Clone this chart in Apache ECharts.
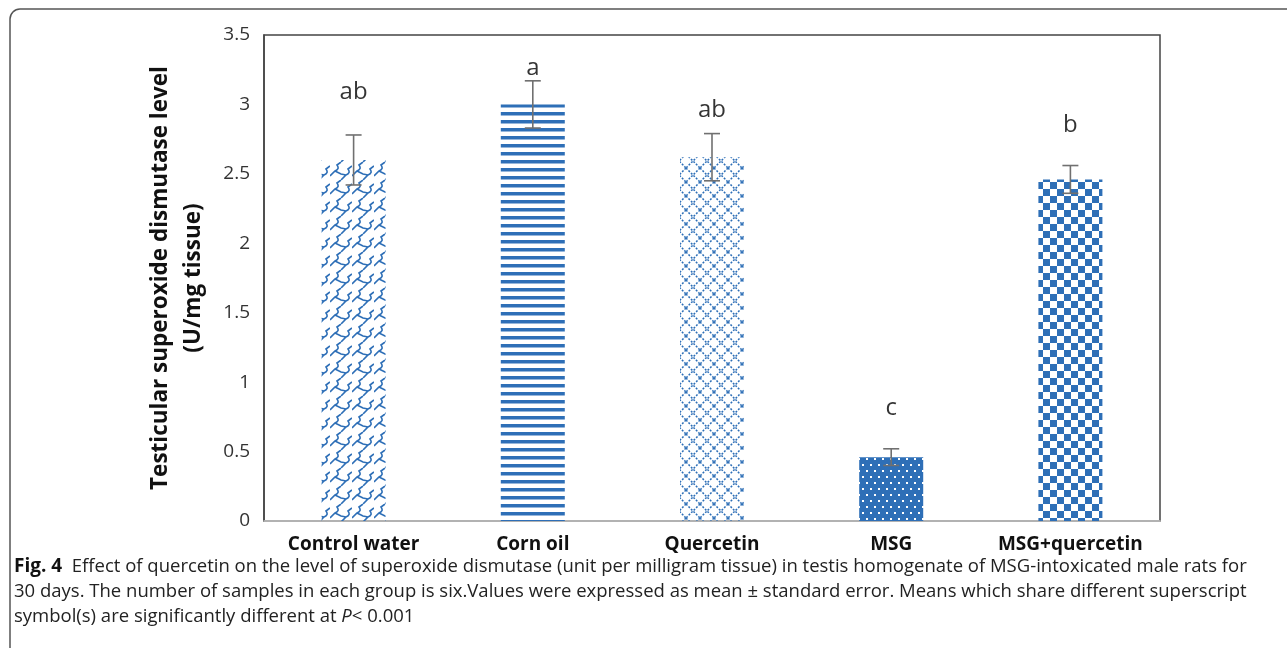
<!DOCTYPE html>
<html>
<head>
<meta charset="utf-8">
<script src="https://cdn.jsdelivr.net/npm/echarts@6/dist/echarts.min.js"></script>
<style>
  html, body { margin: 0; padding: 0; background: #fff; }
  #chart { width: 1287px; height: 648px; }
</style>
</head>
<body>
<div id="chart"></div>
<script>
// data
const groups = ['Control water', 'Corn oil', 'Quercetin', 'MSG', 'MSG+quercetin'];
const sodMean = [2.6, 3.0, 2.62, 0.46, 2.46];
const sodErr = [0.18, 0.17, 0.17, 0.06, 0.1];
const sigLetters = ['ab', 'a', 'ab', 'c', 'b'];
const letterAt = [3.09, 3.26, 2.96, 0.81, 2.85];
const yTicks = [0, 0.5, 1, 1.5, 2, 2.5, 3, 3.5];

const BLUE = '#2e6fb7';

// pattern tiles
function tile(w, h, draw) {
  const c = document.createElement('canvas');
  c.width = w; c.height = h;
  const ctx = c.getContext('2d');
  draw(ctx, w, h);
  return { image: c, repeat: 'repeat' };
}
const patWave = tile(22, 18, (ctx) => {
  ctx.strokeStyle = BLUE; ctx.lineWidth = 1.6;
  ctx.beginPath();
  ctx.moveTo(0, 14); ctx.lineTo(5, 9); ctx.quadraticCurveTo(10, 7, 7, 3); ctx.lineTo(11, 0);
  ctx.moveTo(11, 18); ctx.lineTo(16, 13); ctx.quadraticCurveTo(21, 11, 18, 7); ctx.lineTo(22, 4);
  ctx.moveTo(5, 9); ctx.lineTo(11, 12); ctx.lineTo(16, 13);
  ctx.moveTo(-4, 12); ctx.lineTo(0, 14);
  ctx.stroke();
});
const patStripe = tile(8, 8, (ctx, w) => {
  ctx.fillStyle = BLUE; ctx.fillRect(0, 0, w, 3.5);
});
const patCross = tile(14, 14, (ctx, w, h) => {
  ctx.strokeStyle = BLUE; ctx.lineWidth = 1.5;
  ctx.setLineDash([2, 1.5]);
  ctx.beginPath();
  ctx.moveTo(0, 0); ctx.lineTo(w, h);
  ctx.moveTo(w, 0); ctx.lineTo(0, h);
  ctx.stroke();
});
const patDots = tile(16, 12, (ctx, w, h) => {
  ctx.fillStyle = BLUE; ctx.fillRect(0, 0, w, h);
  ctx.fillStyle = '#fff';
  [[2, 2], [10, 2], [6, 8], [14, 8]].forEach(p => ctx.fillRect(p[0], p[1], 2, 2));
});
const patCheck = tile(14, 14, (ctx) => {
  ctx.fillStyle = BLUE;
  ctx.fillRect(0, 0, 7, 7); ctx.fillRect(7, 7, 7, 7);
});
const patterns = [patWave, patStripe, patCross, patDots, patCheck];

const chart = echarts.init(document.getElementById('chart'));
const option = {
  animation: false,
  backgroundColor: '#fff',
  grid: {
    left: 264, top: 35, right: 127, bottom: 127,
    show: true, borderColor: '#444', borderWidth: 1.5
  },
  xAxis: {
    type: 'category',
    data: groups,
    axisLine: { lineStyle: { color: '#c8c8c8', width: 1.5 } },
    axisTick: { show: false },
    axisLabel: {
      interval: 0,
      color: '#111', fontSize: 19, fontWeight: 'bold',
      fontFamily: 'Open Sans', margin: 14
    }
  },
  yAxis: {
    type: 'value',
    min: 0, max: 3.5, interval: 0.5,
    splitLine: { show: false },
    axisLine: { show: true, lineStyle: { color: '#444', width: 1.5 } },
    axisTick: { show: false },
    axisLabel: {
      color: '#333', fontSize: 19, fontFamily: 'Open Sans', margin: 14,
      formatter: v => yTicks.includes(v) ? String(v) : ''
    },
    name: 'Testicular superoxide dismutase level\n(U/mg tissue)',
    nameLocation: 'middle',
    nameGap: 54,
    nameTextStyle: {
      color: '#111', fontSize: 22.5, fontWeight: 'bold',
      fontFamily: 'Open Sans', lineHeight: 33
    }
  },
  series: [
    {
      type: 'bar',
      barWidth: 64,
      data: sodMean.map((v, i) => ({ value: v, itemStyle: { color: patterns[i] } }))
    },
    {
      type: 'custom',
      z: 5,
      data: sodMean.map((v, i) => [i, v - sodErr[i], v + sodErr[i]]),
      renderItem: (params, api) => {
        const lo = api.coord([api.value(0), api.value(1)]);
        const hi = api.coord([api.value(0), api.value(2)]);
        const hw = 8;
        const st = { stroke: '#707070', lineWidth: 1.6 };
        return {
          type: 'group',
          children: [
            { type: 'line', shape: { x1: hi[0], y1: hi[1], x2: lo[0], y2: lo[1] }, style: st },
            { type: 'line', shape: { x1: hi[0] - hw, y1: hi[1], x2: hi[0] + hw, y2: hi[1] }, style: st },
            { type: 'line', shape: { x1: lo[0] - hw, y1: lo[1], x2: lo[0] + hw, y2: lo[1] }, style: st }
          ]
        };
      }
    },
    {
      type: 'scatter',
      symbolSize: 0,
      data: letterAt.map((v, i) => [i, v]),
      label: {
        show: true, position: 'inside',
        formatter: p => sigLetters[p.dataIndex],
        color: '#000', fontSize: 24, fontWeight: 500, fontFamily: 'Open Sans'
      }
    }
  ],
  graphic: [
    {
      type: 'rect', silent: true,
      shape: { x: 10, y: 9, width: 1400, height: 800, r: 10 },
      style: { fill: 'none', stroke: '#555', lineWidth: 1.5 }
    },
    {
      type: 'text', left: 14, top: 554,
      style: {
        text: '{b|Fig. 4}  Effect of quercetin on the level of superoxide dismutase (unit per milligram tissue) in testis homogenate of MSG-intoxicated male rats for\n' +
              '30 days. The number of samples in each group is six.Values were expressed as mean ± standard error. Means which share different superscript\n' +
              'symbol(s) are significantly different at {i|P}< 0.001',
        font: '18.5px "Open Sans"',
        fill: '#222',
        lineHeight: 25,
        rich: {
          b: { fontWeight: 'bold', fontSize: 19, fill: '#111', fontFamily: 'Open Sans' },
          i: { fontStyle: 'italic', fontSize: 18.5, fill: '#222', fontFamily: 'Open Sans' }
        }
      }
    }
  ]
};
chart.setOption(option);
window.addEventListener('resize', () => chart.resize());
</script>
</body>
</html>
